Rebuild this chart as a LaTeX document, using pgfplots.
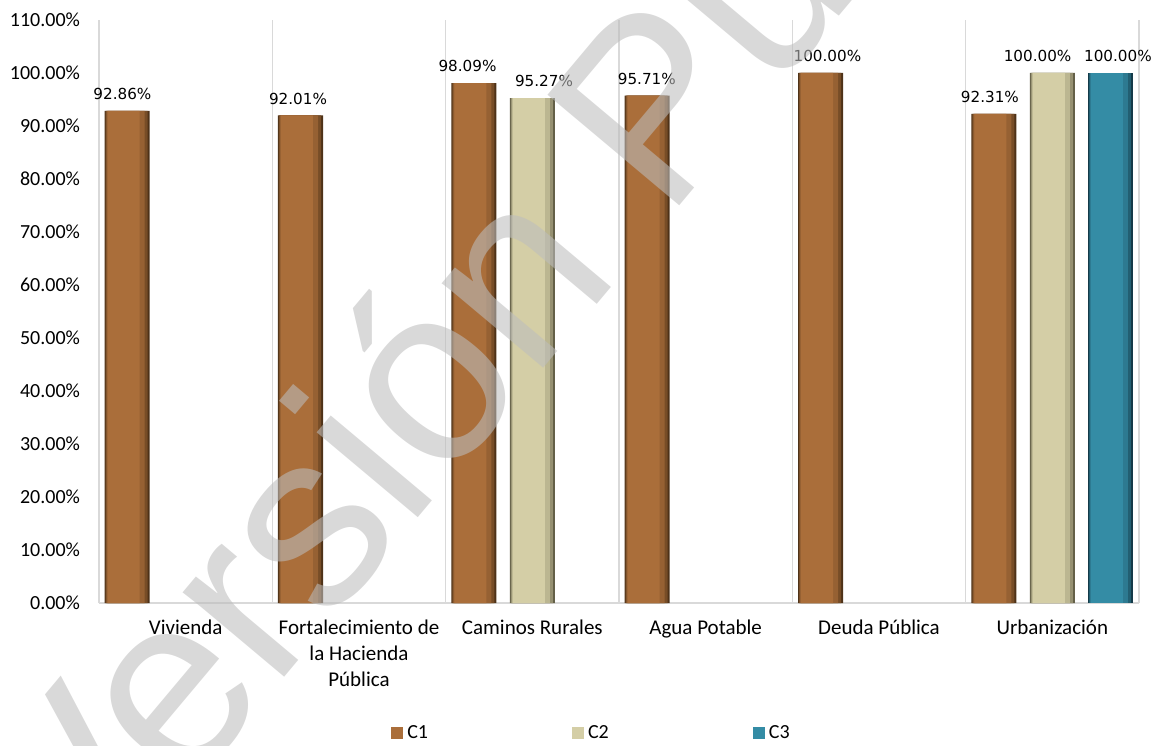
\documentclass[border=0pt]{standalone}
\usepackage{pgfplots}
\usepackage{pgfplotstable}
\pgfplotsset{compat=1.18}
\usepackage{fontspec}
\setmainfont{Carlito}
\newfontfamily\dvs{DejaVu Sans}
\newfontfamily\wm{Liberation Sans}

\definecolor{c1}{RGB}{170,110,58}
\definecolor{c1d}{RGB}{78,50,24}
\definecolor{c2}{RGB}{212,206,166}
\definecolor{c2d}{RGB}{100,96,72}
\definecolor{c3}{RGB}{52,140,165}
\definecolor{c3d}{RGB}{20,58,72}
\definecolor{gridc}{RGB}{217,217,217}
\definecolor{wmgray}{RGB}{189,189,189}

% dx: horizontal offset of the value label (pt)
\pgfplotstableread{
x  y       dx
0  92.86   -0.6
1  92.01   0.5
2  98.09   -1.4
3  95.71   1.6
4  100.00  5.2
5  92.31   -0.2
}\cone
\pgfplotstableread{
x  y       dx
2  95.27   7.6
5  100.00  -5.6
}\ctwo
\pgfplotstableread{
x  y       dx
5  100.00  5.3
}\cthree

% bar drawn in four layers: dark edges, lighter middle
\pgfplotsset{
    layer1/.style 2 args={forget plot, draw=none, fill=#2d, bar width=22.5pt, bar shift=#1pt},
    layer2/.style 2 args={forget plot, draw=none, fill=#2!45!#2d, bar width=21pt, bar shift={(#1-0.25)*1pt}},
    layer3/.style 2 args={forget plot, draw=none, fill=#2!78!#2d, bar width=19pt, bar shift={(#1-0.75)*1pt}},
    layer4/.style 2 args={draw=none, fill=#2, bar width=16pt, bar shift={(#1-1.75)*1pt},
        visualization depends on={\thisrow{dx} \as \dx},
        nodes near coords={\pgfmathprintnumber[fixed,fixed zerofill,precision=2]{\pgfplotspointmeta}\%},
        every node near coord/.append style={font=\dvs\fontsize{7.6}{9}\selectfont, text=black, yshift=2pt, xshift=\dx pt}},
}

\begin{document}
\begin{tikzpicture}
\useasboundingbox (-49.5pt,-71pt) rectangle (528pt,301.5pt);
\begin{axis}[
    at={(0pt,0pt)}, anchor=south west,
    scale only axis,
    width=520pt, height=291.5pt,
    xmin=-0.5, xmax=5.5,
    ymin=0, ymax=110,
    ybar,
    xtick={0,1,2,3,4,5},
    xticklabels={Vivienda, {Fortalecimiento de\\la Hacienda\\Pública}, Caminos Rurales, Agua Potable, Deuda Pública, Urbanización},
    minor xtick={-0.5,0.5,1.5,2.5,3.5,4.5,5.5},
    xminorgrids,
    minor grid style={gridc, line width=0.8pt},
    ytick={0,10,...,110},
    yticklabel={\pgfmathprintnumber[fixed,fixed zerofill,precision=2]{\tick}\%},
    /pgf/number format/assume math mode=true,
    major tick length=0pt, minor tick length=0pt,
    axis x line*=bottom, axis y line*=left,
    x axis line style={gridc, line width=0.8pt, -},
    y axis line style={draw=none},
    yticklabel style={font=\fontsize{10}{12}\selectfont, xshift=-6pt},
    xticklabel style={font=\fontsize{10.5}{13}\selectfont, align=center, yshift=-5pt},
    legend columns=3,
    legend image code/.code={\path[#1] (0pt,-3pt) rectangle (6pt,3pt);},
    legend style={draw=none, at={(0.4745,-0.223)}, anchor=center,
        font=\fontsize{10}{12}\selectfont,
        /tikz/every even column/.append style={column sep=70pt}},
]
\addplot[layer1={-29.25}{c1}] table {\cone};
\addplot[layer2={-29.25}{c1}] table {\cone};
\addplot[layer3={-29.25}{c1}] table {\cone};
\addplot[layer4={-29.25}{c1}] table {\cone};
\addplot[layer1={0}{c2}] table {\ctwo};
\addplot[layer2={0}{c2}] table {\ctwo};
\addplot[layer3={0}{c2}] table {\ctwo};
\addplot[layer4={0}{c2}] table {\ctwo};
\addplot[layer1={29.25}{c3}] table {\cthree};
\addplot[layer2={29.25}{c3}] table {\cthree};
\addplot[layer3={29.25}{c3}] table {\cthree};
\addplot[layer4={29.25}{c3}] table {\cthree};
\legend{C1, C2, C3}
\end{axis}
\node[rotate=50, anchor=base west, inner sep=0pt, text=wmgray, opacity=0.575,
      font=\wm\fontsize{125}{125}\selectfont] at (-6.5pt,-155.5pt) {Versión Pública};
\end{tikzpicture}
\end{document}
